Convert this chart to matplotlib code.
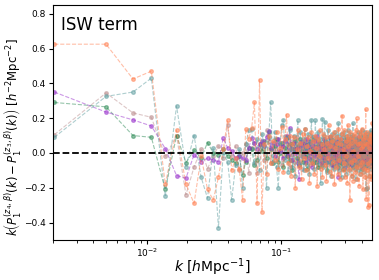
import matplotlib
matplotlib.use("Agg")
import matplotlib.pyplot as plt
import numpy as np

# k grid: bin index times fundamental mode (first bin centre is shifted down)
n_bins = 164
kf = 0.00292
k = kf * (np.arange(1, n_bins + 1) - 0.3)

orange = [
    0.625, 0.625, 0.425, 0.47, -0.18, 0.13, -0.18, -0.29, -0.02, -0.21,
    -0.27, -0.14, 0.02, 0.19, -0.10, -0.03, -0.09, -0.27, 0.14, 0.08,
    0.145, 0.29, -0.29, 0.42, -0.34, 0.05, -0.12, 0.10, -0.06, 0.07,
    -0.04, 0.12, -0.09, 0.03, 0.15, -0.11, 0.08, 0.22, -0.06, 0.10,
    -0.13, 0.05, 0.09, -0.20, 0.02, 0.13, -0.08, 0.06, -0.15, 0.11,
    -0.03, 0.14, -0.10, 0.04, 0.09, -0.17, 0.01, 0.12, -0.06, 0.07,
    -0.12, 0.10, 0.03, -0.19, 0.08, -0.02, 0.13, -0.09, 0.05, -0.14,
    0.11, 0.02, -0.07, 0.09, -0.16, 0.06, -0.03, 0.16, -0.11, 0.04,
    0.10, -0.13, 0.07, -0.05, 0.12, -0.18, 0.03, 0.09, -0.08, 0.06,
    -0.12, 0.14, -0.04, 0.08, -0.15, 0.05, 0.11, 0.215, -0.10, 0.02,
    -0.06, 0.13, -0.14, 0.07, -0.02, 0.10, -0.17, 0.16, 0.04, -0.09,
    0.08, -0.27, 0.12, -0.05, 0.06, -0.13, 0.09, 0.01, -0.16, 0.11,
    -0.04, 0.07, -0.11, 0.13, -0.08, 0.20, -0.15, 0.05, -0.02, 0.10,
    -0.19, 0.06, 0.12, -0.07, 0.03, -0.12, 0.14, -0.05, 0.08, -0.21,
    0.04, 0.11, -0.09, 0.06, -0.14, 0.09, 0.25, -0.265, 0.05, -0.10,
    0.12, -0.06, -0.31, 0.08, -0.30, 0.03, 0.10, -0.13, 0.07, -0.04,
    0.11, -0.15, 0.06, 0.17,
]

teal = [
    0.09, 0.325, 0.35, 0.43, -0.25, 0.27, -0.08, 0.10, -0.14, -0.26,
    0.03, -0.43, 0.00, -0.05, -0.27, -0.07, 0.02, -0.20, 0.05, 0.13,
    0.135, -0.06, 0.08, -0.10, 0.11, 0.04, -0.20, 0.09, 0.29, -0.05,
    0.12, -0.08, -0.20, 0.06, 0.16, 0.19, -0.04, 0.09, -0.11, 0.13,
    0.02, -0.08, 0.10, -0.13, 0.05, 0.19, -0.06, 0.12, -0.02, 0.08,
    -0.10, 0.14, 0.03, -0.07, 0.11, -0.12, 0.06, 0.19, -0.04, 0.09,
    -0.09, 0.19, 0.01, -0.06, 0.12, -0.03, 0.08, -0.17, 0.05, 0.195,
    -0.08, 0.10, 0.18, -0.05, 0.07, -0.11, 0.13, 0.02, -0.06, 0.09,
    -0.13, 0.06, 0.11, -0.04, 0.08, -0.09, 0.12, 0.03, -0.07, 0.10,
    0.05, 0.17, -0.10, 0.07, -0.03, 0.11, -0.14, 0.06, 0.09, -0.05,
    0.12, -0.08, 0.04, 0.10, -0.12, 0.07, -0.02, 0.13, -0.06, 0.08,
    -0.10, 0.05, 0.11, -0.04, 0.09, -0.13, 0.06, 0.17, -0.07, 0.03,
    0.10, -0.09, 0.06, -0.15, 0.08, 0.02, -0.05, 0.12, -0.10, 0.07,
    -0.03, 0.11, -0.12, 0.05, 0.09, -0.06, 0.13, -0.08, 0.04, 0.10,
    -0.11, 0.07, -0.02, 0.12, -0.07, 0.06, -0.21, 0.09, -0.20, 0.11,
    0.03, -0.08, 0.10, -0.05, 0.07, -0.13, 0.12, -0.02, 0.08, -0.09,
    0.13, -0.06, 0.05, 0.10,
]

purple = [
    0.35, 0.235, 0.19, 0.155, 0.025, -0.13, -0.145, -0.01, -0.05, -0.03,
    -0.04, -0.05, 0.085, 0.03, 0.01, -0.03, -0.02, -0.03, -0.04, 0.03,
    0.085, 0.06, 0.02, 0.05, 0.07, 0.04, 0.09, 0.125, 0.03, 0.06,
    -0.02, 0.05, 0.08, 0.01, 0.04, -0.03, 0.07, 0.10, -0.01, 0.145,
    0.02, -0.04, 0.06, 0.00, 0.03, -0.06, -0.15, 0.04, 0.07, -0.02,
    0.05, 0.01, -0.05, 0.08, 0.03, -0.03, 0.06, 0.00, -0.08, 0.04,
    0.07, -0.02, 0.02, 0.10, -0.04, 0.03, 0.05, -0.06, 0.01, 0.04,
    -0.03, 0.08, 0.02, -0.05, 0.06, 0.00, -0.02, 0.05, 0.09, -0.04,
    0.03, -0.07, 0.04, 0.01, -0.03, 0.06, -0.01, 0.02, -0.06, 0.07,
    0.00, -0.14, 0.05, 0.02, -0.04, 0.08, -0.02, 0.03, 0.06, -0.05,
    0.01, 0.04, -0.08, 0.05, -0.01, 0.07, 0.02, -0.04, 0.03, 0.06,
    -0.06, 0.02, 0.08, -0.03, 0.00, 0.05, -0.07, 0.04, 0.01, -0.02,
    0.06, -0.04, 0.03, 0.07, -0.05, 0.02, -0.01, 0.09, -0.03, 0.04,
    0.00, -0.06, 0.05, 0.02, -0.03, 0.07, -0.08, 0.03, 0.01, 0.06,
    -0.04, 0.04, -0.02, 0.08, 0.00, -0.05, 0.03, 0.06, -0.07, 0.02,
    0.05, -0.03, 0.01, 0.07, -0.04, 0.03, -0.06, 0.04, 0.02, -0.01,
    0.06, -0.05, 0.03, 0.01,
]

green = [
    0.29, 0.265, 0.10, 0.09, -0.21, 0.10, -0.055, 0.015, -0.03, 0.06,
    0.00, -0.01, 0.02, -0.02, -0.04, -0.06, -0.02, -0.125, -0.05, 0.03,
    0.02, -0.07, -0.04, 0.05, 0.01, 0.07, -0.03, 0.12, 0.02, -0.06,
    0.04, 0.08, -0.05, 0.00, 0.06, -0.08, 0.03, -0.02, 0.09, -0.04,
    0.05, -0.10, 0.02, 0.07, -0.03, 0.04, -0.07, 0.08, 0.01, -0.05,
    0.06, -0.02, 0.03, -0.09, 0.05, 0.00, 0.07, -0.04, 0.02, -0.06,
    0.08, 0.01, -0.05, 0.04, -0.08, 0.06, -0.01, 0.03, -0.07, 0.05,
    0.00, -0.04, 0.07, -0.02, 0.04, -0.10, 0.06, 0.01, -0.05, 0.03,
    0.08, -0.03, 0.02, -0.07, 0.05, 0.00, -0.04, 0.06, -0.01, 0.03,
    -0.08, 0.04, 0.07, -0.03, 0.01, -0.06, 0.05, 0.02, -0.09, 0.04,
    0.06, -0.02, 0.03, -0.05, 0.08, 0.00, -0.03, 0.04, -0.07, 0.02,
    0.05, -0.04, 0.01, 0.07, -0.06, 0.03, 0.00, -0.08, 0.05, 0.02,
    -0.03, 0.06, -0.05, 0.01, 0.04, -0.07, 0.03, 0.08, -0.02, 0.00,
    0.05, -0.06, 0.02, -0.03, 0.07, -0.01, 0.04, -0.09, 0.03, 0.01,
    -0.05, 0.06, 0.00, -0.04, 0.05, 0.02, -0.07, 0.03, -0.01, 0.06,
    -0.03, 0.04, -0.06, 0.01, 0.07, -0.02, 0.03, -0.05, 0.04, 0.00,
    -0.04, 0.05, 0.02, -0.03,
]

rosy = [
    0.105, 0.345, 0.23, 0.205, -0.02, 0.10, -0.24, -0.08, 0.02, -0.09,
    -0.02, 0.04, -0.03, 0.16, -0.02, 0.04, -0.10, 0.00, 0.05, -0.115,
    0.03, 0.06, -0.115, 0.02, 0.05, -0.04, 0.13, 0.07, -0.06, 0.03,
    0.08, -0.03, 0.01, 0.06, -0.07, 0.04, 0.10, -0.02, 0.05, -0.08,
    0.03, 0.07, -0.05, 0.02, 0.09, -0.04, 0.01, 0.06, -0.09, 0.04,
    0.00, -0.06, 0.08, 0.02, -0.03, 0.05, -0.07, 0.03, 0.10, -0.01,
    0.04, -0.05, 0.07, 0.00, -0.08, 0.03, 0.06, -0.02, 0.05, -0.06,
    0.02, 0.08, -0.04, 0.01, 0.06, -0.07, 0.03, 0.00, -0.05, 0.09,
    0.02, -0.03, 0.05, -0.08, 0.04, 0.07, -0.01, 0.03, -0.06, 0.05,
    0.01, -0.04, 0.08, 0.00, -0.07, 0.04, 0.02, -0.05, 0.06, 0.03,
    -0.09, 0.05, 0.01, -0.03, 0.07, -0.06, 0.02, 0.04, -0.02, 0.08,
    -0.05, 0.03, 0.00, -0.07, 0.06, 0.01, -0.04, 0.05, 0.09, -0.03,
    0.02, -0.06, 0.04, 0.00, 0.07, -0.08, 0.03, -0.01, 0.05, -0.04,
    0.06, 0.01, -0.05, 0.08, -0.02, 0.03, -0.07, 0.04, 0.00, 0.05,
    -0.03, 0.07, -0.06, 0.02, 0.04, -0.01, 0.06, -0.08, 0.03, 0.01,
    -0.04, 0.05, 0.02, -0.06, 0.08, -0.02, 0.04, -0.05, 0.01, 0.06,
    -0.03, 0.02, 0.05, -0.07,
]

series = [
    (rosy, "rosybrown"),
    (green, "seagreen"),
    (purple, "darkorchid"),
    (teal, "cadetblue"),
    (orange, "coral"),
]

fig = plt.figure(figsize=(3.79, 2.80), dpi=100)
ax = fig.add_axes([0.140, 0.143, 0.842, 0.839])

for vals, col in series:
    ax.plot(k, vals, ls="--", marker="o", ms=2.6, lw=0.8, color=col, alpha=0.5)

ax.axhline(0.0, color="black", ls="--", lw=1.3)

ax.set_xscale("log")
ax.set_xlim(0.002, 0.478)
ax.set_ylim(-0.5, 0.85)
ax.set_yticks([-0.4, -0.2, 0.0, 0.2, 0.4, 0.6, 0.8])
ax.tick_params(labelsize=6.5, pad=2, length=3)
ax.tick_params(which="minor", length=2)

ax.text(0.025, 0.955, "ISW term", transform=ax.transAxes, fontsize=12, va="top", ha="left")

ax.set_xlabel(r"$k\ [h\mathrm{Mpc}^{-1}]$", fontsize=10)
ax.xaxis.set_label_coords(0.5, -0.068)
ax.set_ylabel(r"$k\left(P_1^{(z_4,\beta)}(k)-P_1^{(z_3,\beta)}(k)\right)\ [h^{-2}\mathrm{Mpc}^{-2}]$",
              fontsize=8.4)
ax.yaxis.set_label_coords(-0.095, 0.44)

fig.savefig("out.png", dpi=100)
